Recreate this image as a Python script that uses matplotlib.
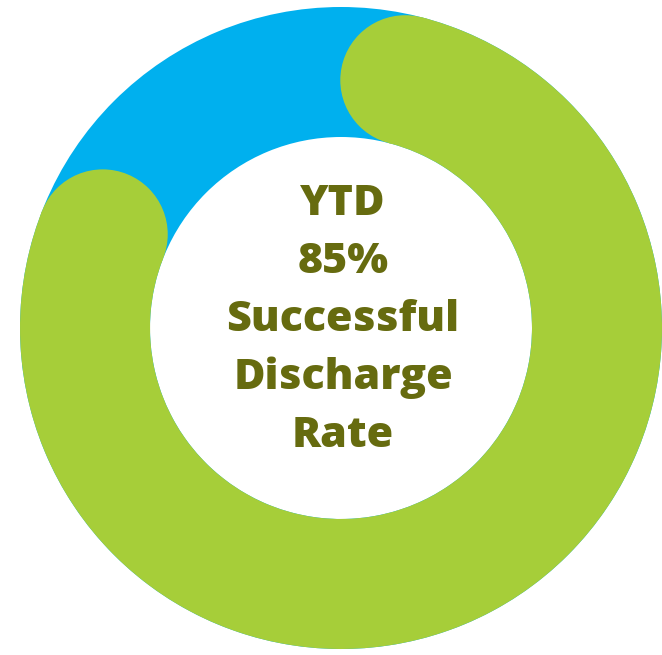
import matplotlib.pyplot as plt
from matplotlib.patches import Wedge, Circle
import numpy as np

# data
pct = 85
lines = ['YTD', '85%', 'Successful', 'Discharge', 'Rate']

blue = '#00B0EE'
green = '#A6CE39'
txt_col = '#666B0F'

W, H = 662, 655
fig = plt.figure(figsize=(W / 100, H / 100), dpi=100)
ax = fig.add_axes([0, 0, 1, 1])
ax.set_xlim(0, W)
ax.set_ylim(H, 0)
ax.axis('off')

cx, cy = 341, 328
r_out, r_in = 321, 191
width = r_out - r_in
r_mid = (r_out + r_in) / 2
cap = np.degrees((width / 2) / r_mid)  # angle eaten by each round cap

# background ring (y axis is flipped, so angles go clockwise on screen)
ax.add_patch(Wedge((cx, cy), r_out, 0, 360, width=width, color=blue, lw=0))

# progress arc starting at 12 o'clock, clockwise, round ends
a0 = -90 + cap
a1 = -90 + pct / 100 * 360 - cap
ax.add_patch(Wedge((cx, cy), r_out, a0, a1, width=width, color=green, lw=0))
for a in (a0, a1):
    t = np.radians(a)
    ax.add_patch(Circle((cx + r_mid * np.cos(t), cy + r_mid * np.sin(t)),
                        width / 2, color=green, lw=0))

for i, s in enumerate(lines):
    ax.text(cx + 2, 215 + 58 * i, s, ha='center', va='baseline',
            fontsize=31, fontweight=800, family='Open Sans', color=txt_col)

fig.savefig('out.png', dpi=100)
